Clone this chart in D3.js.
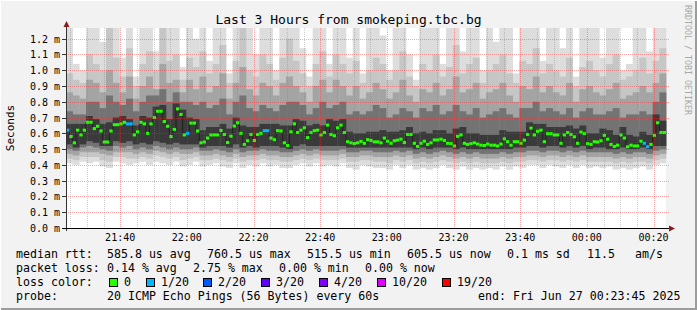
<!DOCTYPE html>
<html>
<head>
<meta charset="utf-8">
<script src="https://cdn.jsdelivr.net/npm/d3@7"></script>
<style>
  body { margin: 0; background: #f2f2f2; }
  svg { display: block; }
  text { font-family: "DejaVu Sans Mono", monospace; fill: #000; }
</style>
</head>
<body>
<svg width="697" height="310"></svg>
<script>
// time window of the graph
const startTime = new Date(2025, 5, 26, 21, 23, 45);
const endTime = new Date(2025, 5, 27, 0, 23, 45);

const yTicks = [0, 0.1, 0.2, 0.3, 0.4, 0.5, 0.6, 0.7, 0.8, 0.9, 1.0, 1.1, 1.2];

// median rtt per minute (ms)
const median = [
  .620,.580,.540,.620,.590,.620,.670,.670,.630,.645,
  .615,.545,.545,.615,.655,.655,.660,.670,.660,.660,
  .590,.610,.670,.660,.600,.660,.700,.740,.740,.675,
  .645,.580,.625,.755,.720,.590,.600,.665,.665,.615,
  .540,.545,.570,.590,.590,.590,.618,.593,.542,.582,
  .646,.667,.600,.530,.553,.593,.555,.593,.600,.617,
  .617,.570,.560,.617,.615,.540,.523,.610,.660,.605,
  .620,.635,.573,.605,.617,.620,.590,.605,.652,.593,
  .585,.635,.652,.605,.547,.540,.535,.540,.549,.537,
  .560,.555,.546,.546,.540,.570,.550,.537,.553,.557,
  .563,.542,.593,.593,.537,.517,.537,.550,.530,.540,
  .558,.558,.563,.555,.537,.535,.520,.581,.590,.537,
  .530,.535,.540,.532,.525,.523,.532,.525,.525,.520,
  .532,.565,.547,.525,.547,.547,.537,.557,.593,.633,
  .590,.613,.620,.547,.598,.598,.590,.590,.537,.590,
  .605,.593,.578,.537,.608,.598,.535,.530,.547,.545,
  .553,.587,.563,.530,.517,.525,.590,.570,.515,.525,
  .520,.520,.550,.537,.515,.530,.587,.667,.605,.605
];

// minutes (step index) where 1 of 20 pings was lost
const lossSteps = [0, 18, 19, 36, 59, 60, 173, 174];

// smoke: ping spread per 2-minute column, in 1/100 ms (band 1 outer .. band 5 inner)
const hi1 = [
  127,104,100,127,127,118,127,127,108,127, 96,127,127,112,127,127,127,102,127,120,
  127,106,127,127,98,127,127,127,110,127, 127,100,127,127,127,114,96,127,127,104,
  127,127,108,127,98,127,127,122,100,127, 127,110,94,127,127,127,104,127,127,112,
  127,127,100,127,118,127,127,98,127,127, 127,106,127,127,114,127,96,127,127,127,
  108,127,127,100,104,127,127,112,127,127
];
const hi2 = [
  98,94,92,110,104,100,127,108,96,114, 90,104,112,100,127,106,110,94,108,102,
  112,98,104,116,92,106,127,100,96,110, 104,94,108,120,106,98,90,104,112,96,
  110,104,98,106,92,100,108,104,94,100, 112,96,90,104,100,110,96,102,116,98,
  104,108,92,100,104,110,98,92,106,104, 114,98,104,100,96,108,90,102,106,100,
  96,104,110,94,96,100,108,98,106,114
];
const hi3 = [
  86,84,82,94,92,86,100,92,86,96, 82,90,96,88,104,92,94,86,94,88,
  96,86,90,98,82,92,102,88,84,92, 90,84,92,96,90,86,80,90,94,86,
  94,90,84,90,82,86,92,88,82,86, 94,84,80,88,86,92,84,88,96,86,
  88,92,82,86,88,92,84,80,90,88, 96,86,90,86,84,92,80,88,90,86,
  84,88,92,82,84,86,90,86,92,98
];
const hi4 = [
  74,72,72,80,80,76,84,80,78,82, 74,80,84,84,88,80,86,80,80,78,
  80,76,78,82,72,80,84,76,74,78, 76,74,78,80,80,78,72,76,80,76,
  78,80,72,74,72,74,78,76,70,72, 76,74,70,76,74,78,72,74,78,74,
  72,76,70,72,74,76,72,70,76,76, 80,74,76,74,72,76,70,74,76,72,
  72,74,76,70,72,72,74,72,80,86
];
const hi5 = [
  66,66,66,71,69,66,67,70,71,69, 65,71,70,77,78,69,79,75,70,69,
  62,64,64,66,63,70,65,64,64,66, 66,66,65,65,69,68,65,66,65,69,
  68,69,61,60,60,61,61,62,61,61, 62,64,60,61,60,62,62,60,63,64,
  60,60,59,59,59,62,61,61,61,67, 66,66,64,64,64,65,63,65,60,60,
  63,62,59,64,59,58,61,59,72,68
];
const lo5 = [
  53,51,53,55,54,52,52,55,54,55, 53,54,53,55,54,53,54,53,53,53,
  51,52,52,52,51,53,51,52,51,52, 52,52,51,50,52,53,52,52,52,52,
  52,52,51,51,51,51,51,51,51,51, 51,51,50,51,50,51,51,51,50,51,
  50,50,50,50,50,50,50,51,51,52, 52,51,52,52,51,52,51,52,50,51,
  51,50,50,51,50,50,51,50,52,52
];
const lo4 = [
  50,49,51,52,51,50,49,52,51,52, 50,51,50,52,51,50,51,50,50,51,
  49,49,50,49,48,50,48,49,49,50, 49,49,48,48,49,50,49,50,49,49,
  49,50,48,48,49,49,48,48,48,49, 48,49,47,48,47,48,49,48,47,48,
  47,48,47,47,47,48,47,48,48,49, 49,48,49,49,48,49,48,49,48,48,
  48,48,47,48,47,48,48,47,49,50
];
const lo3 = [
  47,46,48,48,48,47,46,48,48,48, 47,48,47,49,48,47,48,47,47,48,
  46,46,47,46,45,47,45,46,46,47, 46,46,45,45,46,47,46,47,46,46,
  46,47,45,45,46,46,45,45,45,46, 45,46,44,45,44,45,46,45,44,45,
  44,45,44,44,44,45,44,45,45,46, 46,45,46,46,45,46,45,46,45,45,
  45,45,44,45,44,45,45,44,46,47
];
const lo2 = [
  44,43,45,45,45,43,42,45,45,44, 44,45,44,46,45,44,45,43,44,45,
  43,43,44,43,42,44,42,43,43,44, 43,43,42,42,43,44,43,44,43,43,
  43,44,42,42,43,43,42,42,41,43, 42,43,41,42,41,42,43,42,41,42,
  41,42,41,41,41,42,41,42,42,43, 43,42,43,43,42,43,42,43,42,42,
  42,42,41,42,41,42,42,41,43,44
];
const lo1 = [
  41,40,42,41,42,39,38,42,41,40, 41,42,40,42,41,40,42,39,40,42,
  39,40,41,39,38,41,38,40,39,41, 39,40,38,38,40,41,39,41,39,40,
  39,41,38,37,40,39,38,38,37,40, 38,40,37,38,37,38,40,38,37,39,
  37,38,37,38,37,39,37,39,38,40, 40,38,40,39,38,40,38,40,38,39,
  38,39,37,38,37,38,39,37,40,41
];

const lossColors = [
  {label: "0", color: "#26ff00"},
  {label: "1/20", color: "#00b8ff"},
  {label: "2/20", color: "#0059ff"},
  {label: "3/20", color: "#5e00ff"},
  {label: "4/20", color: "#7e00ff"},
  {label: "10/20", color: "#dd00ff"},
  {label: "19/20", color: "#ff0000"}
];

const svg = d3.select("svg");
const W = 697, H = 310;

// background + 3d frame
svg.append("rect").attr("width", W).attr("height", H).attr("fill", "#f2f2f2");
svg.append("path").attr("d", `M0.5,${H} V0.5 H${W}`).attr("fill", "none").attr("stroke", "#ffffff");
svg.append("path").attr("d", `M1,${H - 1} H${W - 1} V1`).attr("fill", "none").attr("stroke", "#9c9c9c").attr("stroke-width", 2);

const x = d3.scaleTime().domain([startTime, endTime]).range([66, 666]);
const y = d3.scaleLinear().domain([0, 1.2678]).range([228, 28]);

svg.append("rect")
  .attr("x", 66).attr("y", 28).attr("width", 600).attr("height", 200)
  .attr("fill", "#ffffff");

svg.append("clipPath").attr("id", "plot")
  .append("rect").attr("x", 66).attr("y", 28).attr("width", 601).attr("height", 200);

const g = svg.append("g").attr("clip-path", "url(#plot)");

// smoke
const colTime = c => d3.timeMinute.offset(startTime, 2 * c);
const bands = [
  {lo: lo1, hi: hi1, color: "#dddddd"},
  {lo: lo2, hi: hi2, color: "#c6c6c6"},
  {lo: lo3, hi: hi3, color: "#a4a4a4"},
  {lo: lo4, hi: hi4, color: "#737373"},
  {lo: lo5, hi: hi5, color: "#3a3a3a"}
];
bands.forEach(b => {
  g.append("g").selectAll("rect")
    .data(b.hi)
    .join("rect")
    .attr("x", (d, c) => x(colTime(c)))
    .attr("width", (d, c) => x(colTime(c + 1)) - x(colTime(c)) + 0.3)
    .attr("y", d => y(d / 100))
    .attr("height", (d, c) => y(b.lo[c] / 100) - y(d / 100))
    .attr("fill", b.color);
});

// grid
const minorTicks = x.ticks(d3.timeMinute.every(5));
svg.append("g").selectAll("line")
  .data(minorTicks)
  .join("line")
  .attr("x1", d => Math.round(x(d)) + 0.5).attr("x2", d => Math.round(x(d)) + 0.5)
  .attr("y1", 28).attr("y2", 228)
  .attr("stroke", d => d.getMinutes() % 20 === 0 ? "rgba(255,40,40,0.42)" : "rgba(130,130,130,0.38)")
  .attr("stroke-dasharray", "1,1");

svg.append("g").selectAll("line")
  .data(yTicks.slice(1))
  .join("line")
  .attr("x1", 66).attr("x2", 669)
  .attr("y1", d => Math.round(y(d)) + 0.5).attr("y2", d => Math.round(y(d)) + 0.5)
  .attr("stroke", "rgba(255,40,40,0.42)")
  .attr("stroke-dasharray", "1,1");

// median line + loss coloured boxes
const medData = median.map((v, i) => ({t: d3.timeMinute.offset(startTime, i), v: v, i: i}));
const medLine = d3.line().x(d => x(d.t)).y(d => y(d.v)).curve(d3.curveStepAfter);
g.append("path")
  .datum(medData.concat([{t: endTime, v: median[median.length - 1]}]))
  .attr("d", medLine)
  .attr("fill", "none")
  .attr("stroke", "#202020")
  .attr("stroke-width", 1);

g.append("g").selectAll("rect")
  .data(medData)
  .join("rect")
  .attr("x", d => x(d.t))
  .attr("width", d => x(d3.timeMinute.offset(d.t, 1)) - x(d.t))
  .attr("y", d => y(d.v) - 1.5)
  .attr("height", 3)
  .attr("fill", d => lossSteps.includes(d.i) ? lossColors[1].color : lossColors[0].color);

// axes
svg.append("g").selectAll("line")
  .data(yTicks)
  .join("line")
  .attr("x1", 62).attr("x2", 66)
  .attr("y1", d => Math.round(y(d)) + 0.5).attr("y2", d => Math.round(y(d)) + 0.5)
  .attr("stroke", "#333");

svg.append("line")
  .attr("x1", 66.5).attr("x2", 66.5).attr("y1", 231).attr("y2", 25)
  .attr("stroke", "#333");
svg.append("line")
  .attr("x1", 62).attr("x2", 670).attr("y1", 228.5).attr("y2", 228.5)
  .attr("stroke", "#000");
svg.append("path").attr("d", "M63.5,27 L66.5,21 L69.5,27 Z").attr("fill", "#8b1a1a");
svg.append("path").attr("d", "M669,225.5 L675,228.5 L669,231.5 Z").attr("fill", "#8b1a1a");

// tick labels
svg.append("g").selectAll("text")
  .data(yTicks)
  .join("text")
  .attr("x", 60)
  .attr("y", d => y(d) + 4)
  .attr("text-anchor", "end")
  .attr("font-size", 10)
  .text(d => d3.format(".1f")(d) + " m");

svg.append("g").selectAll("text")
  .data(minorTicks.filter(d => d.getMinutes() % 20 === 0))
  .join("text")
  .attr("x", d => x(d))
  .attr("y", 241)
  .attr("text-anchor", "middle")
  .attr("font-size", 10)
  .text(d => d3.timeFormat("%H:%M")(d));

// titles
svg.append("text")
  .attr("x", 348.5).attr("y", 24)
  .attr("text-anchor", "middle")
  .attr("font-size", 13)
  .text("Last 3 Hours from smokeping.tbc.bg");

svg.append("text")
  .attr("transform", "rotate(-90)")
  .attr("x", -128).attr("y", 14)
  .attr("text-anchor", "middle")
  .attr("font-size", 11)
  .text("Seconds");

svg.append("text")
  .attr("transform", "rotate(90)")
  .attr("x", 5).attr("y", -685)
  .attr("font-size", 8.3)
  .style("fill", "#a8a8a8")
  .text("RRDTOOL / TOBI OETIKER");

// legend
const legendRows = [
  {y: 258, items: [[16, "median rtt:"], [107, "585.8 us avg"], [207, "760.5 us max"], [307, "515.5 us min"], [407, "605.5 us now"], [507, "0.1 ms sd"], [587, "11.5"], [635, "am/s"]]},
  {y: 272, items: [[16, "packet loss:"], [107, "0.14 % avg"], [193, "2.75 % max"], [279, "0.00 % min"], [365, "0.00 % now"]]},
  {y: 286, items: [[16, "loss color:"]]},
  {y: 300, items: [[16, "probe:"], [107, "20 ICMP Echo Pings (56 Bytes) every 60s"], [478, "end: Fri Jun 27 00:23:45 2025"]]}
];
legendRows.forEach(r => {
  r.items.forEach(([lx, txt]) => {
    svg.append("text")
      .attr("x", lx).attr("y", r.y)
      .attr("font-size", 11.6)
      .text(txt);
  });
});

const swatchX = [109, 146, 203, 261, 319, 377, 442];
lossColors.forEach((d, k) => {
  svg.append("rect")
    .attr("x", swatchX[k] + 0.5).attr("y", 278.5)
    .attr("width", 8).attr("height", 8)
    .attr("fill", d.color)
    .attr("stroke", "#000");
  svg.append("text")
    .attr("x", swatchX[k] + 15).attr("y", 286)
    .attr("font-size", 11.6)
    .text(d.label);
});
</script>
</body>
</html>
